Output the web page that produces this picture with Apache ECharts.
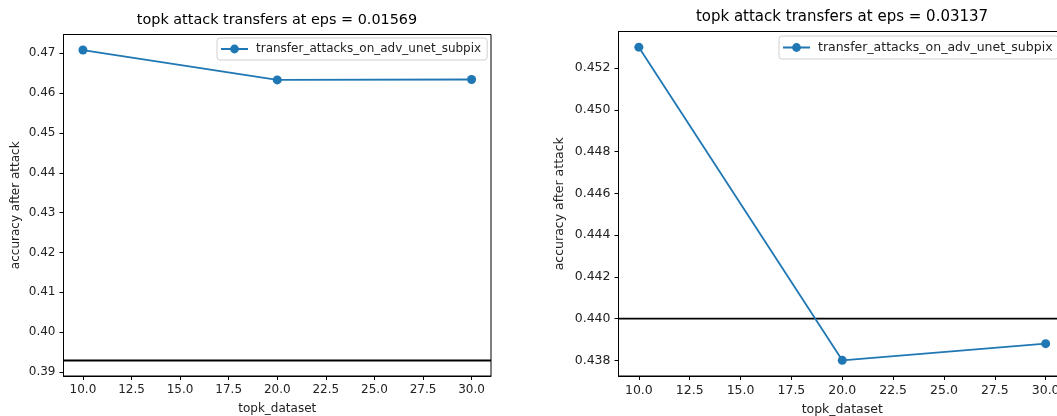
<!DOCTYPE html>
<html>
<head>
<meta charset="utf-8">
<script src="https://cdn.jsdelivr.net/npm/echarts@6/dist/echarts.min.js"></script>
<style>
html,body{margin:0;padding:0;background:#fff;}
#c{width:1057px;height:416px;}
</style>
</head>
<body>
<div id="c"></div>
<script>
// ---- data ----
const seriesName = 'transfer_attacks_on_adv_unet_subpix';
const topkValues = [10, 20, 30];
const accEps01569 = [0.4708, 0.4633, 0.4634];
const accEps03137 = [0.4530, 0.4380, 0.4388];
const baselineEps01569 = 0.3929;
const baselineEps03137 = 0.4400;
const titleLeft = 'topk attack transfers at eps = 0.01569';
const titleRight = 'topk attack transfers at eps = 0.03137';
const xTicks = [10, 12.5, 15, 17.5, 20, 22.5, 25, 27.5, 30];
const yTicksLeft = [0.39, 0.40, 0.41, 0.42, 0.43, 0.44, 0.45, 0.46, 0.47];
const yTicksRight = [0.438, 0.440, 0.442, 0.444, 0.446, 0.448, 0.450, 0.452];
const xName = 'topk_dataset';
const yName = 'accuracy after attack';

// matplotlib-like autoscale with 5% margins
function lims(vals) {
  const lo = Math.min(...vals), hi = Math.max(...vals);
  const p = (hi - lo) * 0.05;
  return [lo - p, hi + p];
}
const xl = lims(topkValues);
const yl0 = lims(accEps01569.concat([baselineEps01569]));
const yl1 = lims(accEps03137.concat([baselineEps03137]));

const FONT = 'DejaVu Sans';
const BLUE = '#1f77b4';
const TXT = '#222';

function xAxisCfg(gi, fs) {
  return {
    type: 'value', gridIndex: gi, min: xl[0], max: xl[1],
    name: xName, nameLocation: 'middle', nameGap: 27,
    nameTextStyle: {fontFamily: FONT, fontSize: fs, color: TXT},
    axisLine: {show: true, lineStyle: {color: '#000', width: 1}},
    axisTick: {show: true, length: 4, customValues: xTicks, lineStyle: {color: '#000'}},
    axisLabel: {customValues: xTicks, margin: 8, fontFamily: FONT, fontSize: fs, color: TXT,
      formatter: v => v.toFixed(1)},
    splitLine: {show: false}
  };
}
function yAxisCfg(gi, lim, ticks, dec, fs, gap) {
  return {
    type: 'value', gridIndex: gi, min: lim[0], max: lim[1],
    name: yName, nameLocation: 'middle', nameGap: gap, nameRotate: 90,
    nameTextStyle: {fontFamily: FONT, fontSize: fs, color: TXT},
    axisLine: {show: true, lineStyle: {color: '#000', width: 1}},
    axisTick: {show: true, length: 4, customValues: ticks, lineStyle: {color: '#000'}},
    axisLabel: {customValues: ticks, margin: 8, fontFamily: FONT, fontSize: fs, color: TXT,
      formatter: v => v.toFixed(dec)},
    splitLine: {show: false}
  };
}
function seriesCfg(i, data) {
  return {
    type: 'line', name: seriesName, xAxisIndex: i, yAxisIndex: i,
    data: topkValues.map((x, k) => [x, data[k]]),
    symbol: 'circle', symbolSize: 9, clip: false, z: 3,
    lineStyle: {color: BLUE, width: 1.8},
    itemStyle: {color: BLUE},
    emphasis: {disabled: true}
  };
}
function baselineCfg(i, base) {
  return {
    type: 'line', name: 'baseline', xAxisIndex: i, yAxisIndex: i,
    data: [[xl[0], base], [xl[1], base]],
    symbol: 'none', silent: true, z: 2,
    lineStyle: {color: '#000', width: 1.8},
    emphasis: {disabled: true}
  };
}
function legendCfg(left, top, fs) {
  return {
    data: [seriesName], left: left, top: top, orient: 'vertical',
    itemWidth: 27, itemHeight: 11,
    padding: [5, 6, 5, 3],
    borderColor: '#d0d0d0', borderWidth: 1, borderRadius: 3,
    backgroundColor: 'rgba(255,255,255,0.8)',
    textStyle: {fontFamily: FONT, fontSize: fs, color: TXT, padding: [0, 0, 0, 3]},
    selectedMode: false
  };
}

const chart = echarts.init(document.getElementById('c'), null, {renderer: 'canvas'});
chart.setOption({
  animation: false,
  backgroundColor: '#fff',
  title: [
    {text: titleLeft, left: 277, top: 13, textAlign: 'center', padding: 0,
      textStyle: {fontFamily: FONT, fontSize: 14.4, fontWeight: 'normal', color: '#000'}},
    {text: titleRight, left: 842, top: 9.5, textAlign: 'center', padding: 0,
      textStyle: {fontFamily: FONT, fontSize: 15, fontWeight: 'normal', color: '#000'}}
  ],
  legend: [legendCfg(217, 38, 12), legendCfg(779, 36, 12.5)],
  grid: [
    {left: 63.5, top: 34.5, width: 427.5, height: 341.5, show: true, borderColor: '#000', borderWidth: 1, backgroundColor: 'transparent', containLabel: false, outerBoundsMode: 'none'},
    {left: 618.5, top: 31.5, width: 447.5, height: 344.5, show: true, borderColor: '#000', borderWidth: 1, backgroundColor: 'transparent', containLabel: false, outerBoundsMode: 'none'}
  ],
  xAxis: [xAxisCfg(0, 12), xAxisCfg(1, 12.5)],
  yAxis: [yAxisCfg(0, yl0, yTicksLeft, 2, 12, 42), yAxisCfg(1, yl1, yTicksRight, 3, 12.5, 52)],
  series: [
    baselineCfg(0, baselineEps01569), baselineCfg(1, baselineEps03137),
    seriesCfg(0, accEps01569), seriesCfg(1, accEps03137)
  ]
});
</script>
</body>
</html>
